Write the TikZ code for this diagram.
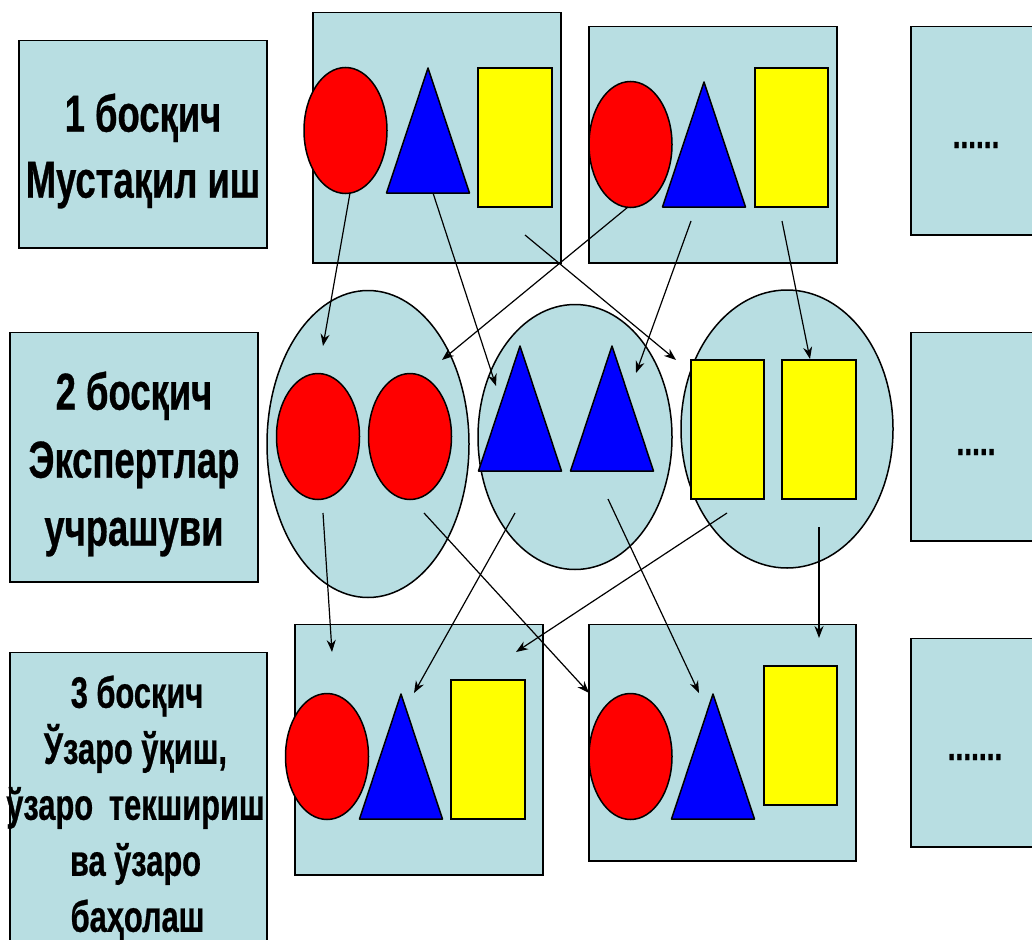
\documentclass[tikz,border=0pt]{standalone}
\usepackage{fontspec}
\setmainfont[FakeStretch=0.7,BoldFont={Liberation Sans Bold},BoldFeatures={FakeBold=0.6}]{Liberation Sans}
\usetikzlibrary{shapes.geometric,arrows.meta}
\definecolor{panel}{RGB}{184,222,226}
\definecolor{cred}{RGB}{255,0,0}
\definecolor{cblue}{RGB}{0,0,255}
\definecolor{cyell}{RGB}{255,255,0}
\tikzset{
 panelbox/.style={draw=black,fill=panel,line width=1.5pt,outer sep=0pt},
 redell/.style={draw=black,fill=cred,line width=1.5pt,outer sep=0pt},
 bluetri/.style={draw=black,fill=cblue,line width=1.5pt,line join=round},
 yellrect/.style={draw=black,fill=cyell,line width=1.5pt,outer sep=0pt},
 conn/.style={draw=black,line width=1.2pt,-{Stealth[length=12pt,width=9pt]}},
 lab/.style={font=\bfseries,align=center,inner sep=0pt,text=black},
}
\newcommand{\rbox}[5]{\node[panelbox,rectangle,inner sep=0pt,minimum width=#4pt-#2pt,minimum height=#5pt-#3pt,anchor=north west] (#1) at (#2,#3) {};}
\newcommand{\ellip}[3]{\node[redell,ellipse,inner sep=0pt,minimum width=83pt,minimum height=126pt] (#1) at (#2,#3) {};}
\newcommand{\tri}[3]{\draw[bluetri] (#2-41.5,#3) -- (#2,#3-125) -- (#2+41.5,#3) -- cycle; \coordinate (#1) at (#2,#3);}
\newcommand{\yrect}[5]{\node[yellrect,rectangle,inner sep=0pt,minimum width=#4pt-#2pt,minimum height=#5pt-#3pt,anchor=north west] (#1) at (#2,#3) {};}
\begin{document}
\begin{tikzpicture}[x=1pt,y=-1pt]
\useasboundingbox (0,0) rectangle (1032,939);
\rbox{l1}{19}{40.5}{267}{248}
\rbox{l2}{10}{332.5}{258}{582}
\rbox{l3}{10}{652.5}{267}{945}
\rbox{a}{313}{12.5}{561}{263}
\rbox{b}{589}{26.5}{837}{263}
\rbox{c}{911}{26.5}{1040}{235}
\rbox{d}{911}{332.5}{1040}{541}
\rbox{e}{295}{624.5}{543}{875}
\rbox{f}{589}{624.5}{856}{861}
\rbox{g}{911}{638.5}{1040}{847}
\node[panelbox,ellipse,inner sep=0pt,minimum width=202pt,minimum height=307pt] (c1) at (368,444) {};
\node[panelbox,ellipse,inner sep=0pt,minimum width=194pt,minimum height=265pt] (c2) at (575,437) {};
\node[panelbox,ellipse,inner sep=0pt,minimum width=212pt,minimum height=278pt] (c3) at (787,429) {};
% shapes
\ellip{ra}{345.5}{130.5}
\tri{ta}{428}{193}
\yrect{ya}{478}{68}{552}{207}
\ellip{rb}{630.5}{144.5}
\tri{tb}{704}{207}
\yrect{yb}{755}{68}{828}{207}
\ellip{rc}{318}{436.5}
\ellip{rd}{410}{436.5}
\tri{tc}{520}{471}
\tri{td}{612}{471}
\yrect{yc}{691}{360}{764}{499}
\yrect{yd}{782}{360}{856}{499}
\ellip{re}{327}{756.5}
\tri{te}{401}{819}
\yrect{ye}{451}{680}{525}{819}
\ellip{rf}{630.5}{756.5}
\tri{tf}{713}{819}
\yrect{yf}{764}{666}{837}{805}
% labels
\node[lab,font=\bfseries\fontsize{52}{66}\selectfont] (t1) at (143,151) {1 босқич\\Мустақил иш};
\node[lab,font=\bfseries\fontsize{52}{68}\selectfont] (t2) at (134,464) {2 босқич\\Экспертлар\\учрашуви};
\node[lab,font=\bfseries\fontsize{44}{56}\selectfont] (t3) at (135.5,808) {\hspace*{3pt}3 босқич\\Ўзаро ўқиш,\\ўзаро\, текшириш\\ва ўзаро\\\hspace*{4pt}баҳолаш};
\node[lab,anchor=base,font=\fontsize{40}{44}\selectfont\mdseries] (tc) at (976,148) {\textbf{......}};
\node[lab,anchor=base,font=\fontsize{40}{44}\selectfont\mdseries] (td) at (976,455) {\textbf{.....}};
\node[lab,anchor=base,font=\fontsize{40}{44}\selectfont\mdseries] (tg) at (975,760) {\textbf{.......}};
% connector ends
\foreach \n/\x/\y in {s1/350/193,e1/323/346,s2/433/193,e2/496/386,s3/525/235,e3/676/360,s4/628/207,e4/442/360,s5/691/221,e5/636/373,s6/782/221,e6/810/359,s7/323/513,e7/332/652,s8/424/513,e8/589/693,s9/515/513,e9/414/693,s10/608/499,e10/699/693,s11/727/513,e11/516/652,s12/819/527,e12/819/638}{\coordinate (\n) at (\x,\y);}
\foreach \i in {1,...,12}{\draw[conn] (s\i) -- (e\i);}
\end{tikzpicture}
\end{document}
